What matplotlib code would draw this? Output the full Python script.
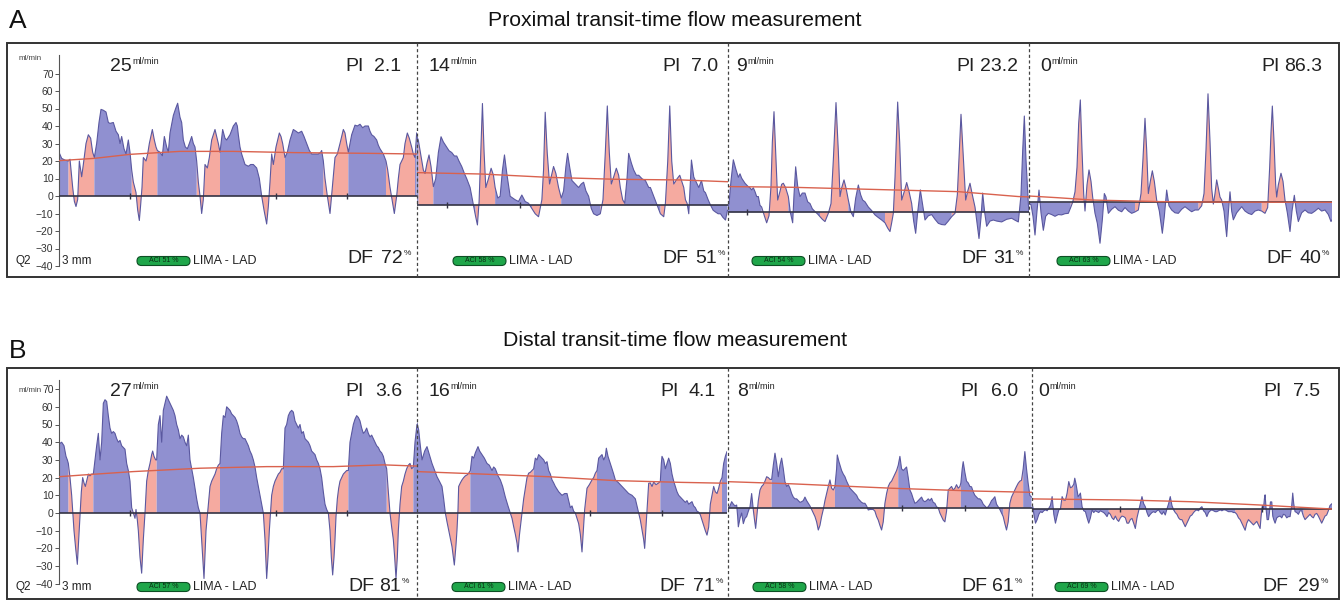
import numpy as np
import matplotlib
matplotlib.use('Agg')
import matplotlib.pyplot as plt
from matplotlib.patches import FancyBboxPatch, Rectangle

plt.rcParams['font.family'] = ['Liberation Sans', 'DejaVu Sans']

W, H = 1342, 601

# ---------------- data: (time sample, flow ml/min) ----------------
# proximal (A)
A1_FLOW = [(177, 25), (185, 21.5), (195, 20.5), (205, 20), (210, 21), (218, 5), (223, -3), (228, -6), (233, -2),
           (238, 20), (245, 11), (250, 18), (258, 30), (265, 35), (272, 33), (278, 25), (283, 22), (290, 30),
           (297, 42), (303, 49.5), (310, 49), (318, 48), (325, 42), (330, 41.5), (340, 42), (348, 37), (355, 35),
           (360, 30), (365, 34), (372, 27), (378, 24), (385, 32), (390, 25), (395, 15), (400, 8), (408, 2),
           (413, -8), (418, -14), (422, -5), (426, 5), (430, 22), (438, 20), (443, 24), (448, 30), (457, 38),
           (463, 32), (468, 28), (472, 26), (480, 25), (487, 23), (493, 34), (500, 28), (505, 25), (510, 36),
           (520, 46), (527, 50), (533, 53), (540, 45), (545, 42), (550, 32), (556, 28), (562, 27), (568, 30),
           (575, 34), (580, 30), (585, 28), (590, 20), (595, 8), (600, 0), (605, -10), (610, -2), (615, 18),
           (622, 16), (628, 22), (635, 32), (640, 35), (645, 38), (650, 34), (655, 30), (660, 25), (668, 38),
           (675, 33), (680, 32), (690, 35), (700, 40), (708, 42), (712, 40), (715, 35), (720, 28), (725, 24),
           (735, 18), (745, 17), (752, 18), (760, 18), (770, 16), (778, 10), (785, 0), (792, -8), (800, -16),
           (805, -6), (810, 8), (815, 24), (820, 18), (828, 28), (838, 36), (843, 34), (848, 30), (855, 22),
           (862, 25), (870, 32), (880, 38), (888, 37), (895, 36), (905, 37), (912, 34), (920, 30), (928, 26),
           (935, 24), (945, 24), (955, 24), (962, 25), (965, 26), (970, 20), (975, 10), (982, 0), (990, -10),
           (997, 5), (1005, 22), (1012, 24), (1020, 30), (1030, 38), (1035, 36), (1040, 30), (1045, 25),
           (1050, 30), (1055, 35), (1065, 40.5), (1072, 40), (1080, 41), (1088, 39), (1095, 40), (1105, 40),
           (1110, 37), (1115, 35), (1122, 34), (1130, 32), (1135, 29), (1140, 27), (1150, 24), (1158, 20),
           (1163, 15), (1170, 5), (1177, -3), (1183, -10), (1190, 0), (1195, 10), (1200, 18), (1210, 22),
           (1215, 30), (1222, 36), (1228, 33), (1235, 28), (1240, 24), (1245, 22), (1250, 36)]
A1_SYS = [(205, 283), (395, 472), (590, 660), (785, 855), (970, 1045), (1158, 1245)]
A1_MEAN = [(177, 20.2), (283, 21.5), (390, 23.8), (540, 25.5), (700, 25.5), (880, 24.8), (1100, 24.4), (1250, 24)]
A1_MARKS = [390, 828, 1042]

A2_FLOW = [(6, 39), (10, 37), (18, 28), (25, 20), (30, 18), (36, 24), (42, 28.6), (48, 22), (55, 10.5), (62, 15),
           (70, 30), (78, 39), (85, 36), (95, 33), (102, 31), (110, 30), (118, 28), (125, 28), (132, 25), (140, 22),
           (148, 18), (155, 15), (165, 10), (172, 3), (175, 0), (181, -6), (187, -11.4), (192, 2), (197, 30),
           (202, 58), (207, 30), (212, 10), (220, 15), (228, 21), (235, 17), (240, 10), (248, 4), (255, 5),
           (262, 20), (268, 28.6), (275, 18), (285, 5), (300, 3), (310, 2), (320, 5.7), (330, 2), (340, 1),
           (350, -2), (360, -5), (370, -6.7), (380, 3), (385, 20), (390, 53), (396, 30), (403, 12), (410, 18),
           (415, 22), (422, 18), (430, 10), (438, 4), (445, 8), (452, 22), (457, 29.5), (463, 22), (470, 14),
           (480, 12), (490, 10), (498, 12), (505, 13), (512, 8), (520, 5), (528, -2), (535, -5), (545, -6),
           (555, -5), (563, 3), (570, 30), (576, 56.6), (582, 30), (588, 12), (595, 16), (603, 21), (610, 17),
           (615, 10), (622, 3), (628, 1), (635, 15), (640, 29.5), (648, 24), (655, 20), (663, 17), (670, 17),
           (680, 15), (690, 14), (700, 10), (705, 10), (715, 5), (725, 0), (735, -5), (745, -6.7), (750, 1),
           (757, 25), (763, 56.6), (769, 25), (775, 12), (785, 15), (793, 17), (800, 13), (805, 10), (810, 3),
           (815, 1), (820, -5), (828, 25.7), (835, 16), (840, 14), (850, 10), (858, 14), (865, 8), (870, 7),
           (878, 3), (885, 0), (893, -3), (900, -4), (908, -5), (915, -5), (922, -7), (930, -8.6), (936, -3)]
A2_SYS = [(10, 55), (181, 240), (350, 438), (555, 628), (735, 815)]
A2_MEAN = [(6, 18.5), (200, 17.7), (400, 15.8), (600, 14.7), (800, 14.3), (936, 13.3)]
A2_MARKS = [95, 315]

A3_FLOW = [(9, 3), (12, 5), (18, 18), (25, 30), (32, 25), (40, 20), (45, 22), (50, 19.5), (55, 18), (60, 16.6),
           (68, 15), (75, 14), (80, 12.8), (85, 14), (90, 11.8), (95, 9), (100, 9), (105, 4), (110, 3), (118, -2),
           (125, -6), (132, -2), (138, 15), (142, 40), (147, 57.5), (152, 35), (158, 7), (165, 12), (170, 16),
           (175, 16.6), (182, 14), (190, 9), (196, 0), (203, -6), (207, 10), (212, 26), (218, 15), (225, 9),
           (232, 11), (240, 11), (248, 6), (255, 5), (262, 2), (270, 0.4), (278, -1), (285, -2.5), (292, -4),
           (300, -5.3), (305, -3), (310, -0.6), (318, 5), (325, 30), (333, 62.7), (340, 35), (345, 9), (350, 14),
           (357, 18.5), (363, 14), (370, 7), (378, 0), (385, -2.5), (392, 8), (400, 15.6), (407, 10), (413, 7),
           (420, 6), (430, 3), (440, 1), (450, -1.5), (460, -3), (470, -4.4), (480, -6), (488, -9), (495, -11),
           (500, -6), (505, -0.6), (510, 20), (518, 63), (524, 40), (530, 7), (538, 12), (545, 17), (552, 12),
           (560, 5), (566, -5), (572, -12), (578, 0), (586, 12.8), (593, 4), (600, -4.4), (610, -2), (620, -1.3),
           (630, -4), (640, -6.3), (650, -7), (660, -7.2), (670, -5), (680, -2.5), (690, -0.6), (697, 10),
           (703, 35), (708, 56), (714, 35), (722, 7), (728, 12), (735, 16.6), (742, 10), (750, 3), (756, -6),
           (762, -15), (768, -3), (773, 11), (779, 0), (785, -8), (795, -5), (805, -4.4), (815, -5), (830, -5.5),
           (845, -4), (860, -3.4), (870, -4.5), (880, -5.5), (888, 10), (893, 35), (898, 55), (903, 30),
           (910, 5), (912, 0)]
A3_SYS = [(110, 190), (285, 370), (480, 560), (680, 750)]
A3_MEAN = [(9, 14.7), (200, 14.3), (500, 12.8), (700, 11.8), (880, 9), (912, 8.8)]
A3_MARKS = [65]

A4_FLOW = [(12, -1), (18, -1.3), (24, -8), (30, -18.7), (36, -5), (42, 7), (48, -6), (55, -16), (62, -8),
           (70, -6.3), (80, -7), (90, -8), (100, -7), (110, -7.2), (120, -6.5), (130, -6.3), (137, -3), (143, 0),
           (150, 6), (156, 20), (161, 45), (166, 58.5), (171, 30), (176, 5), (180, -5), (186, 10), (192, 18.5),
           (198, 12), (203, 3), (210, -6.3), (217, -12), (225, -23.4), (232, -10), (238, 5), (243, 3), (250, -6.3),
           (260, -4), (270, -2.5), (280, -4.5), (290, -5.4), (300, -3), (310, -5), (320, -6.3), (330, -5.5),
           (340, -4.4), (348, 5), (354, 25), (360, 48), (365, 30), (370, 5), (376, 12), (382, 18), (388, 12),
           (395, 1.3), (403, -5), (412, -17.7), (418, -8), (425, 7), (432, -2), (440, -4.4), (450, -6),
           (460, -6.3), (470, -4), (480, -2.5), (490, -4), (500, -5.4), (510, -4.4), (520, -4.4), (530, -2),
           (537, 5), (543, 30), (549, 62), (555, 35), (560, 8), (565, -1), (570, 5), (575, 12.8), (580, 8),
           (585, 3), (590, 1.3), (597, -5), (605, -19.6), (610, -6), (615, 6), (620, -5), (625, -10), (635, -6),
           (650, -2.5), (660, -5), (670, -6.3), (680, -7), (690, -5), (700, -4.4), (710, -5), (720, -6.3),
           (728, -3), (734, 20), (738, 40), (742, 55), (747, 35), (752, 10), (755, 3), (760, 10), (768, 16.6),
           (774, 12), (780, 1.3), (787, -6), (795, -16.7), (801, -5), (808, 4), (814, -5), (820, -11), (830, -6),
           (840, -4.4), (850, -6), (860, -6.3), (870, -5), (880, -3.4), (890, -5), (900, -4.4), (910, -7),
           (918, -11), (921, -10)]
A4_SYS = [(137, 203), (330, 395), (520, 590), (710, 780)]
A4_MEAN = [(12, 3.6), (100, 2.6), (200, 1.3), (400, 0.4), (600, 0.1), (921, 0)]
A4_MARKS = []

# distal (B)
B1_FLOW = [(177, 39), (185, 40), (192, 38), (198, 32), (202, 30), (205, 28), (210, 20), (215, 10), (222, -10),
           (227, -20), (232, -29), (236, -15), (240, 0), (244, 12), (248, 20), (252, 17), (256, 15), (260, 18),
           (265, 22), (270, 21), (275, 22), (280, 22), (285, 30), (290, 38), (295, 45), (300, 30), (305, 40),
           (310, 62), (315, 64), (320, 63), (325, 55), (330, 48), (335, 45), (340, 46), (345, 45), (350, 42),
           (355, 40), (360, 41), (365, 38), (370, 37), (375, 36), (380, 28), (385, 24), (390, 18), (395, 3),
           (400, 0), (405, -3), (408, 2), (412, -4), (415, -10), (420, -25), (425, -34), (430, -15), (435, 0),
           (440, 18), (445, 24), (450, 28), (455, 33), (458, 35), (462, 32), (467, 30), (470, 30), (475, 50),
           (480, 55), (485, 40), (490, 58), (495, 62), (500, 66), (505, 64), (510, 62), (515, 60), (520, 58),
           (525, 55), (530, 50), (535, 47), (540, 42), (545, 44), (550, 43), (555, 40), (560, 38), (565, 44),
           (570, 30), (575, 25), (580, 20), (585, 14), (590, 8), (595, 3), (600, 0), (605, -15), (612, -37),
           (618, -10), (625, 5), (630, 15), (635, 18), (640, 20), (645, 22), (650, 25), (655, 27), (660, 28),
           (665, 45), (670, 55), (675, 54), (680, 60), (685, 59), (690, 58), (695, 56), (700, 55), (705, 54),
           (710, 52), (715, 49), (720, 45), (725, 43), (730, 42), (735, 42), (740, 40), (745, 38), (750, 35),
           (755, 33), (760, 30), (765, 26), (770, 20), (775, 15), (780, 10), (785, 5), (790, 0), (795, -15),
           (800, -37), (804, -25), (808, -10), (812, 2), (815, 10), (820, 15), (825, 18), (830, 20), (835, 22),
           (840, 23), (845, 25), (850, 25), (855, 48), (860, 50), (865, 55), (870, 57), (875, 58), (880, 57),
           (885, 52), (890, 50), (895, 48), (900, 50), (905, 45), (910, 46), (915, 42), (920, 41), (925, 40),
           (930, 38), (935, 35), (940, 34), (945, 33), (950, 30), (955, 28), (960, 25), (965, 20), (970, 12),
           (975, 5), (980, 2), (985, 0), (990, -10), (994, -25), (998, -35), (1002, -25), (1005, -15),
           (1008, -2), (1012, 8), (1016, 14), (1020, 18), (1025, 20), (1030, 22), (1035, 23), (1040, 24),
           (1045, 24), (1050, 40), (1055, 45), (1060, 50), (1065, 53), (1070, 55), (1075, 54), (1080, 52),
           (1085, 48), (1090, 45), (1095, 46), (1100, 48), (1105, 45), (1110, 43), (1115, 44), (1120, 42),
           (1125, 40), (1130, 38), (1135, 37), (1140, 35), (1145, 34), (1150, 32), (1155, 28), (1160, 25),
           (1165, 12), (1170, 0), (1175, -8), (1180, -15), (1184, -25), (1188, -37), (1192, -25), (1195, -10),
           (1200, 5), (1205, 15), (1210, 18), (1215, 22), (1220, 25), (1225, 27), (1230, 28), (1235, 25),
           (1240, 26), (1245, 40), (1251, 50)]
B1_SYS = [(205, 280), (395, 470), (600, 660), (790, 850), (985, 1045), (1160, 1240)]
B1_MEAN = [(177, 20.5), (250, 21.5), (400, 23.4), (600, 25.3), (800, 26.2), (1000, 26.2), (1150, 27.2), (1251, 26.5)]
B1_MARKS = [390, 828, 1042]

B2_FLOW = [(5, 50.8), (10, 47), (15, 38), (20, 30), (28, 35), (35, 37.5), (42, 33), (50, 28), (58, 24), (65, 20.5),
           (72, 18), (80, 15), (85, 8), (90, 0), (95, -5), (100, -9.6), (105, -14), (110, -19), (117, -29.4),
           (122, -18), (125, -9.6), (128, 2), (130, 15), (135, 17), (140, 18.7), (145, 20), (150, 21), (155, 21.5),
           (160, 22.5), (165, 24), (170, 32), (175, 31), (180, 34), (188, 37.5), (193, 35), (200, 33), (207, 31),
           (215, 28), (222, 27), (230, 24), (235, 26), (240, 25), (248, 21), (255, 18.7), (262, 15), (270, 9),
           (278, 4), (285, 0), (290, -3), (295, -7.7), (300, -12), (305, -17), (308, -22), (312, -13), (315, -8),
           (320, 0), (325, 8), (330, 14), (335, 20), (340, 22.5), (345, 23), (350, 24), (355, 25), (360, 31),
           (365, 30), (370, 33), (375, 32), (380, 31), (385, 30), (390, 28), (395, 29), (400, 24), (405, 22),
           (410, 18.7), (415, 17), (420, 15), (430, 12), (440, 10), (448, 11), (455, 11), (460, 7), (465, 3),
           (470, 4), (475, 1), (480, 0), (485, -3), (490, -6), (495, -12), (500, -22), (504, -10), (508, 2),
           (515, 14), (522, 16), (530, 18.7), (535, 20), (540, 22.5), (545, 24), (550, 31), (555, 32), (560, 33),
           (565, 30), (570, 32), (573, 36.6), (578, 32), (585, 28), (590, 25), (595, 22), (600, 18.7), (610, 17),
           (620, 15), (630, 13), (640, 11), (650, 10), (655, 9), (660, 8), (665, 4), (670, 0), (675, -4),
           (680, -9.6), (685, -15), (688, -20), (692, -8), (695, 0), (698, 10), (700, 16.8), (705, 17), (710, 15),
           (715, 17.5), (722, 16), (730, 17), (735, 18), (738, 28), (740, 32), (745, 30), (750, 25), (755, 28),
           (760, 31), (765, 28), (770, 22), (775, 18), (780, 15), (785, 12), (790, 10), (800, 8), (810, 6),
           (815, 7), (820, 5), (830, 6.4), (835, 4), (840, 3), (845, 1), (850, 0.5), (855, -1), (860, -4),
           (865, -7), (870, -10), (875, -12.5), (880, -8), (885, 5), (890, 10), (895, 15), (900, 12), (905, 11),
           (910, 14), (915, 18), (920, 20), (925, 28), (930, 32), (935, 34.7)]
B2_SYS = [(90, 165), (285, 355), (480, 545), (670, 735), (850, 920)]
B2_MEAN = [(5, 23.4), (200, 22), (400, 20.5), (600, 18.3), (800, 17.3), (935, 16.8)]
B2_MARKS = [525, 740]

B3_FLOW = [(9, -1), (15, 1), (20, 3.4), (25, 2), (30, 1), (35, 1.5), (38, -5), (40, -10.8), (45, -6), (50, -3),
           (55, -9), (60, -6), (65, -5), (70, -2), (75, 0.5), (80, 8), (85, -1.3), (88, -6), (92, -11.7), (96, -4),
           (100, 4), (105, 10), (110, 12), (115, 13), (120, 15), (125, 17.5), (130, 17), (135, 16), (140, 16),
           (145, 24), (150, 30.8), (155, 25), (160, 17.5), (165, 24), (170, 28), (175, 22), (180, 14.7), (185, 12),
           (190, 13), (195, 11), (200, 8), (205, 6), (210, 5), (215, 5), (220, 4), (225, 3), (230, 3.4), (235, 4),
           (240, 6), (245, 4), (250, 2.5), (255, 1), (260, -1), (265, -3), (270, -5), (275, -8), (280, -12.6),
           (285, -10), (290, -5), (295, -1), (300, 4), (305, 8), (310, 12), (315, 15.7), (320, 11), (325, 10),
           (330, 12), (335, 22), (337, 29.8), (342, 26), (350, 21), (355, 19), (360, 17.5), (365, 15), (370, 13),
           (375, 11), (380, 10), (385, 9), (390, 8), (395, 7), (400, 5), (405, 4), (410, 3), (415, 2.5),
           (420, 2.5), (425, 1), (430, -1.3), (435, -1), (440, -1), (445, -1), (450, -2), (455, -5), (460, -7),
           (465, -10), (470, -12.6), (475, -8), (480, 2.5), (485, 8), (490, 12), (495, 14), (500, 15), (505, 17),
           (510, 19), (515, 21), (520, 24), (525, 29), (530, 22), (535, 21), (540, 22), (545, 23), (550, 17),
           (555, 10), (560, 8), (565, 5), (570, 2.5), (575, 3), (580, 4), (585, 5), (590, 6), (595, 4), (600, 3.4),
           (605, 4), (610, 5), (615, 4), (620, 5.3), (625, 3), (630, 2.5), (635, 0.5), (640, 0), (645, -3),
           (650, -5), (655, -7), (660, -8), (665, -2), (670, 10), (675, 11), (680, 12), (685, 10), (690, 11),
           (695, 13), (700, 11), (705, 12), (708, 14), (712, 22), (715, 26), (720, 20), (725, 15), (730, 14),
           (735, 12), (740, 11.8), (745, 9), (750, 7), (755, 6), (760, 5), (765, 5), (770, 4), (775, 2), (780, 1),
           (785, 0), (790, 0.5), (795, 2), (800, 4), (805, 5), (810, 6.2), (815, 2), (820, 0.5), (825, -1),
           (830, -3), (835, -5), (840, -9), (845, -12.6), (850, -8), (855, 2.5), (860, 6), (865, 8), (870, 10),
           (875, 12), (880, 13.8), (885, 15), (890, 15.5), (895, 22), (900, 31.7), (905, 22), (910, 13.8),
           (915, 7), (920, 6)]
B3_SYS = [(85, 140), (255, 330), (440, 520), (640, 708), (835, 895)]
B3_MEAN = [(9, 14.7), (200, 13.5), (500, 11), (750, 9.4), (920, 8.7)]
B3_MARKS = [530, 720]

B4_FLOW = [(18, 0), (22, 1.3), (26, -4), (30, -8), (35, -6), (40, -3), (45, -1.5), (50, -2), (55, -1), (60, -0.5),
           (65, -1), (70, 0.4), (75, 2), (80, 7), (85, -3), (90, -8), (95, -4), (100, -0.5), (105, 0), (110, 7),
           (115, 5), (120, 5), (125, 9), (130, 15.5), (135, 12), (140, 12.5), (145, 14), (148, 17.4), (152, 14),
           (158, 7), (162, 8), (165, 9), (170, 1.3), (175, -1), (180, -1.5), (185, -5), (190, -8), (195, -5),
           (200, -0.5), (205, -2), (210, -1), (215, -1.5), (220, -2), (225, -1), (230, -1.5), (235, -2), (240, -3),
           (245, -4.3), (250, -2), (255, -3), (260, -5), (265, -6), (270, -4), (275, -6), (280, -7), (285, -5),
           (290, -4), (295, -4.3), (300, -5), (305, -8), (310, -8), (315, -6), (320, -5.3), (325, -8), (330, -11),
           (335, -5), (340, -1), (345, 3), (350, 7), (355, 3), (360, 1.3), (365, -2), (370, -4.3), (375, -3),
           (380, -2), (385, -1.5), (390, -2), (395, -1), (400, -0.5), (405, -2), (410, -3), (415, -1.5),
           (420, -3.4), (425, 0), (430, 3), (435, 7), (440, 2), (445, -0.5), (450, -2), (455, -3), (460, -5),
           (465, -6), (470, -6), (475, -8), (480, -10), (485, -8), (490, -6), (495, -4), (500, -3.4), (505, -2),
           (510, -1), (515, -0.5), (520, -1), (525, 0.5), (530, 1.3), (535, -1), (540, -2), (545, -4.3), (550, -2),
           (555, -1), (560, -0.5), (565, -1), (570, -1.5), (575, -1.5), (580, -1), (585, -0.5), (590, -1),
           (595, -0.5), (600, -0.5), (605, -1), (610, -1.5), (615, -1.5), (620, -1.5), (625, -2), (630, -2),
           (635, -3), (640, -5), (645, -6), (650, -8), (655, -10), (660, -12), (665, -8), (670, -6), (675, -7),
           (680, -8), (685, -9), (690, -8), (695, -7), (700, -9), (705, -11), (708, -4), (712, 2), (715, 0),
           (718, 6), (720, 8), (723, 0), (726, -6), (730, -6), (733, -2), (736, 4), (740, 4), (743, -4), (746, -6),
           (750, -8), (755, -5), (760, -4.3), (765, -4), (770, -5), (775, -3), (780, -3.4), (785, -5), (790, -4.3),
           (795, -4.3), (800, 2), (803, 9), (806, 3), (810, -1.5), (815, -2), (820, -3), (825, -1), (830, -1),
           (835, -4), (840, -6), (845, -5), (850, -4), (855, -3), (860, -4.3), (865, -5), (870, -3), (875, -2.5),
           (880, -4), (885, -6), (890, -8), (895, -6), (900, -4), (905, -3.4), (910, -1), (915, 2), (921, 3)]
B4_SYS = [(105, 145), (250, 340), (450, 510), (630, 708), (835, 915)]
B4_MEAN = [(18, 5.7), (300, 5.1), (500, 4.1), (700, 2.3), (880, 0.4), (921, 0)]
B4_MARKS = [285, 710]

# readouts per segment
A_FLOW_MEAN = [25, 14, 9, 0]
A_PI = ['2.1', '7.0', '23.2', '86.3']
A_DF = [72, 51, 31, 40]
A_ACI = [51, 58, 54, 63]
B_FLOW_MEAN = [27, 16, 8, 0]
B_PI = ['3.6', '4.1', '6.0', '7.5']
B_DF = [81, 71, 61, 29]
B_ACI = [57, 61, 58, 69]

# ---------------- layout (pixels) ----------------
PANELS = [
    dict(letter='A', title='Proximal transit-time flow measurement', title_y=20, letter_y=21,
         box=(7, 43, 1339, 277), zero=[196, 205, 212.3, 202.3], pxu=1.75,
         seg=[(59, 417), (417, 727.5), (728, 1029), (1029, 1332)],
         tlim=[(177, 1251), (6, 936), (9, 912), (12, 921)],
         flow=[A1_FLOW, A2_FLOW, A3_FLOW, A4_FLOW], sys=[A1_SYS, A2_SYS, A3_SYS, A4_SYS],
         mean=[A1_MEAN, A2_MEAN, A3_MEAN, A4_MEAN], marks=[A1_MARKS, A2_MARKS, A3_MARKS, A4_MARKS],
         q=A_FLOW_MEAN, pi=A_PI, df=A_DF, aci=A_ACI,
         q_x=[110, 428, 736, 1040], pi_x=[345, 662, 956, 1261], pi_r=[401, 718, 1018, 1322],
         df_x=[347, 662, 961, 1266], df_r=[403, 717, 1015, 1321], badge_x=[137, 453, 752, 1057],
         top_y=71, bot_y=263, badge_y=261, unit_y=59, spine=(-40, 80.5)),
    dict(letter='B', title='Distal transit-time flow measurement', title_y=341, letter_y=351,
         box=(7, 368, 1339, 599), zero=[513, 513, 507.7, 509], pxu=1.77,
         seg=[(59, 417), (417, 727), (728, 1031.5), (1031.5, 1332)],
         tlim=[(177, 1251), (5, 935), (9, 920), (18, 921)],
         flow=[B1_FLOW, B2_FLOW, B3_FLOW, B4_FLOW], sys=[B1_SYS, B2_SYS, B3_SYS, B4_SYS],
         mean=[B1_MEAN, B2_MEAN, B3_MEAN, B4_MEAN], marks=[B1_MARKS, B2_MARKS, B3_MARKS, B4_MARKS],
         q=B_FLOW_MEAN, pi=B_PI, df=B_DF, aci=B_ACI,
         q_x=[110, 428, 737, 1038], pi_x=[345, 660, 960, 1263], pi_r=[402, 716, 1018, 1320],
         df_x=[348, 659, 961, 1262], df_r=[401, 715, 1014, 1320], badge_x=[137, 452, 753, 1055],
         top_y=396, bot_y=591, badge_y=587, unit_y=391, spine=(-40, 75)),
]

BLUE = '#9090d0'
PINK = '#f5aaa0'
TRACE = '#5a58a0'
MEANC = '#d9624e'
INK = '#222222'
BIG = 14

fig = plt.figure(figsize=(W / 100, H / 100), dpi=100)

for P in PANELS:
    left, top, right, bottom = P['box']
    for k in range(4):
        x0, x1 = P['seg'][k]
        ax = fig.add_axes([x0 / W, 1 - bottom / H, (x1 - x0) / W, (bottom - top) / H])
        ax.patch.set_alpha(0)
        z = P['zero'][k]
        ax.set_ylim(-(bottom - z) / P['pxu'], (z - top) / P['pxu'])
        ax.set_xlim(*P['tlim'][k])

        t, v = np.array(P['flow'][k], dtype=float).T
        pink = np.zeros(len(t), bool)
        edges = []
        for a, b in P['sys'][k]:
            pink |= (t >= a) & (t <= b)
            edges += [a, b]
        blue = ~pink | np.isin(t, edges)
        ax.fill_between(t, v, 0, where=pink, color=PINK, lw=0, zorder=1)
        ax.fill_between(t, v, 0, where=blue, color=BLUE, lw=0, zorder=1)
        ax.plot(t, v, color=TRACE, lw=0.8, zorder=2)
        ax.axhline(0, color='#333344', lw=1.2, zorder=3)
        if P['marks'][k]:
            ax.plot(P['marks'][k], [0] * len(P['marks'][k]), ls='none', marker='|', ms=5,
                    mew=1.0, color='#333344', zorder=3)
        mt, mv = np.array(P['mean'][k]).T
        ax.plot(mt, mv, color=MEANC, lw=1.0, zorder=4)

        for s in ax.spines.values():
            s.set_visible(False)
        ax.set_xticks([])
        if k == 0:
            ax.spines['left'].set_visible(True)
            ax.spines['left'].set_color('#555555')
            ax.spines['left'].set_linewidth(0.8)
            ax.spines['left'].set_bounds(*P['spine'])
            ax.set_yticks(range(-40, 71, 10))
            ax.tick_params(axis='y', direction='out', length=3, width=0.7, color='#555555',
                           labelsize=7.5, labelcolor='#333333', pad=1)
        else:
            ax.set_yticks([])

# overlay in pixel coordinates for frames and readouts
ov = fig.add_axes([0, 0, 1, 1])
ov.set_xlim(0, W)
ov.set_ylim(H, 0)
ov.axis('off')
ov.patch.set_alpha(0)

for P in PANELS:
    left, top, right, bottom = P['box']
    ov.add_patch(Rectangle((left, top), right - left, bottom - top, fill=False, ec='#333333', lw=1.4))
    for x0, _ in P['seg'][1:]:
        ov.plot([x0, x0], [top, bottom], color='#444444', lw=0.9, ls=(0, (2.5, 2)))
    ov.text(9, P['letter_y'], P['letter'], fontsize=19, va='center', ha='left', color='#111111')
    ov.text(675, P['title_y'], P['title'], fontsize=15.3, va='center', ha='center', color='#111111')
    ov.text(42, P['unit_y'], 'ml/min', fontsize=5.8, ha='right', va='center', color='#444444')
    ov.text(15, P['badge_y'], 'Q2', fontsize=8.5, ha='left', va='center', color=INK)
    ov.text(62, P['badge_y'], '3 mm', fontsize=8.5, ha='left', va='center', color=INK)
    for k in range(4):
        q = ov.text(P['q_x'][k], P['top_y'], str(P['q'][k]), fontsize=BIG, ha='left', va='baseline', color=INK)
        ov.annotate('ml/min', xy=(1, 1), xycoords=q, xytext=(0.5, 1), textcoords='offset points',
                    fontsize=6.5, ha='left', va='top', color=INK)
        ov.text(P['pi_x'][k], P['top_y'], 'PI', fontsize=BIG, ha='left', va='baseline', color=INK)
        ov.text(P['pi_r'][k], P['top_y'], P['pi'][k], fontsize=BIG, ha='right', va='baseline', color=INK)
        ov.text(P['df_x'][k], P['bot_y'], 'DF', fontsize=BIG, ha='left', va='baseline', color=INK)
        d = ov.text(P['df_r'][k], P['bot_y'], str(P['df'][k]), fontsize=BIG, ha='right', va='baseline', color=INK)
        ov.annotate('%', xy=(1, 1), xycoords=d, xytext=(0.5, 0), textcoords='offset points',
                    fontsize=6, ha='left', va='top', color=INK)
        bx = P['badge_x'][k]
        by = P['badge_y']
        ov.add_patch(FancyBboxPatch((bx, by - 4.5), 53, 9, boxstyle='round,pad=0,rounding_size=4.5',
                                    fc='#1fa64a', ec='#0d4f24', lw=0.8))
        ov.text(bx + 26.5, by, 'ACI %d %%' % P['aci'][k], fontsize=5, ha='center', va='center', color='#0b2e15')
        ov.text(bx + 56, by, 'LIMA - LAD', fontsize=9, ha='left', va='center', color=INK)

fig.savefig('out.png', dpi=100, facecolor='white')
